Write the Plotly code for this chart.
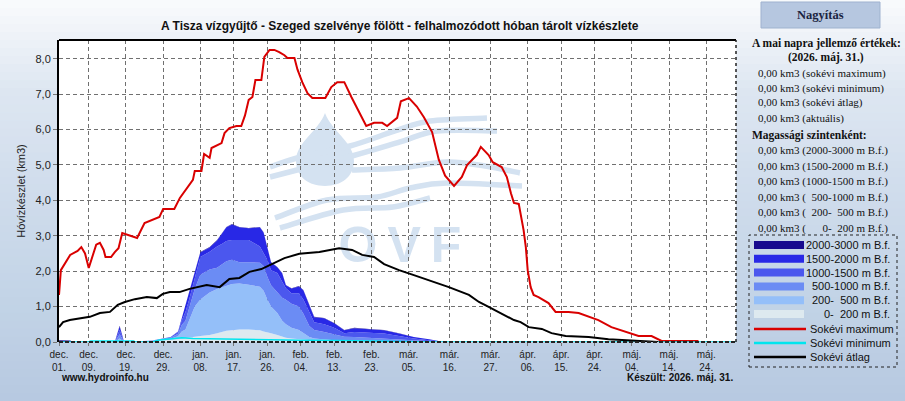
# -*- coding: utf-8 -*-
# Tisza catchment above Szeged - snow water storage chart (hydroinfo style)

import datetime as dt
import plotly.graph_objects as go

# %% data
base = dt.datetime(2025, 12, 1)

# sokévi maximum (red) - days since dec 01, km3
max_days = [0, 0.5, 3, 5, 6, 7, 8, 10, 11, 12, 12.5, 14, 15, 16, 17, 19, 21, 23, 25, 27,
            28, 31, 32.5, 34.5, 36, 36.5, 38.3, 39, 40.5, 41, 42.6, 43.7, 44.5, 45.8, 47.7,
            49, 50, 51, 52, 52.8, 54.4, 55.2, 56.6, 57.9, 59.2, 60.6, 61.4, 63.3, 64.1,
            65.4, 66.8, 68.1, 71.6, 73.2, 74.8, 76.7, 78.6, 80.7, 82.6, 84.7, 86.9, 88.2,
            89.3, 90.9, 91.9, 94.1, 96.2, 98.1, 100.3, 102.1, 103.8, 105.4, 106.2, 108.3,
            109.7, 112.3, 113.4, 115.5, 116.6, 119.0, 120.4, 121.5, 122.3, 123.6, 124.1,
            124.9, 125.5, 126.0, 126.8, 127.6, 128.9, 131.6, 133.5, 137.0, 139.7, 142.4,
            145.0, 148.5, 152.3, 155.8, 159.3, 162.0, 171.9]
max_vals = [1.33, 2.03, 2.46, 2.57, 2.68, 2.5, 2.09, 2.75, 2.8, 2.6, 2.4, 2.4, 2.54, 2.65,
            3.08, 3.02, 2.94, 3.36, 3.45, 3.53, 3.76, 3.76, 4.07, 4.35, 4.58, 4.83, 4.83,
            5.31, 5.2, 5.48, 5.56, 5.62, 5.9, 6.04, 6.1, 6.1, 6.4, 6.84, 6.92, 7.4, 7.4,
            8.05, 8.25, 8.25, 8.19, 8.1, 8.02, 8.02, 7.7, 7.34, 7.03, 6.89, 6.89, 7.2, 7.34,
            7.34, 6.92, 6.47, 6.1, 6.19, 6.19, 6.1, 6.19, 6.33, 6.8, 6.89, 6.65, 6.35, 5.93,
            5.15, 4.7, 4.49, 4.41, 4.66, 5.0, 5.28, 5.51, 5.28, 5.08, 4.94, 4.66, 4.2, 3.93,
            3.9, 3.64, 3.16, 2.68, 2.03, 1.55, 1.33, 1.27, 1.1, 0.85, 0.85, 0.82, 0.71,
            0.62, 0.42, 0.28, 0.17, 0.17, 0.03, 0.03]

# sokévi átlag (black)
avg_days = [0, 1.1, 2.9, 7.0, 8.3, 11.0, 13.7, 15.8, 17.7, 20.4, 23.6, 26.3, 27.9, 29.8,
            32.4, 35.1, 39.7, 43.2, 45.8, 48.5, 51.2, 54.4, 57.1, 60.6, 64.6, 70.0, 75.3,
            78.8, 81.5, 84.7, 87.4, 91.4, 95.4, 99.5, 104.8, 110.2, 112.9, 115.5, 118.2,
            122.3, 124.1, 126.3, 129.8, 132.4, 136.2, 142.4, 147.7, 155.8, 161.1]
avg_vals = [0.42, 0.56, 0.62, 0.68, 0.71, 0.82, 0.85, 1.05, 1.13, 1.21, 1.27, 1.24, 1.36,
            1.41, 1.41, 1.5, 1.61, 1.55, 1.78, 1.81, 1.98, 2.06, 2.2, 2.37, 2.49, 2.54,
            2.65, 2.6, 2.46, 2.4, 2.2, 2.03, 1.89, 1.75, 1.55, 1.33, 1.13, 0.99, 0.85,
            0.62, 0.56, 0.42, 0.37, 0.25, 0.17, 0.14, 0.08, 0.03, 0.0]

# sokévi minimum (cyan)
min_days = [0, 8, 8.5, 20, 20.5, 25, 27, 30, 33, 36, 45, 55, 65, 75, 85, 95, 99, 100, 182]
min_vals = [0, 0, 0.03, 0.03, 0, 0, 0.06, 0.1, 0.12, 0.1, 0.08, 0.07, 0.05, 0.04, 0.03,
            0.02, 0.02, 0, 0]

# current season by elevation band (km3 per band, stacked)
band_days = [0, 3, 4, 15, 16.3, 17.5, 25, 28, 30, 32, 33, 34, 35, 36.5, 38, 40.5, 42.5,
             44, 45, 46.5, 48.5, 51, 54, 55, 56, 57, 58.7, 60, 61, 62.5, 64.5, 65.7, 67.3,
             68.6, 71.3, 74, 76.7, 79.4, 83.4, 87.4, 91.4, 95.4, 99.5, 102, 103.5, 182]
band_0_200 = [0, 0, 0, 0, 0.02, 0, 0.02, 0.05, 0.06, 0.08, 0.1, 0.12, 0.13, 0.15, 0.17,
              0.2, 0.25, 0.3, 0.32, 0.33, 0.35, 0.35, 0.33, 0.3, 0.28, 0.25, 0.2, 0.15,
              0.12, 0.1, 0.08, 0.06, 0.05, 0.04, 0.03, 0.02, 0.02, 0.02, 0.02, 0.01, 0.01,
              0.01, 0, 0, 0, 0]
band_200_500 = [0, 0, 0, 0, 0.08, 0, 0.01, 0.02, 0.03, 0.08, 0.2, 0.23, 0.47, 0.85, 1.03,
                1.2, 1.25, 1.25, 1.28, 1.31, 1.3, 1.27, 1.23, 1.15, 0.92, 0.75, 0.62, 0.45,
                0.38, 0.3, 0.26, 0.19, 0.09, 0.06, 0.04, 0.03, 0.02, 0.02, 0.02, 0.02,
                0.01, 0.01, 0.01, 0, 0, 0]
band_500_1000 = [0, 0, 0, 0, 0.12, 0, 0.01, 0.02, 0.03, 0.07, 0.18, 0.25, 0.35, 0.5, 0.7,
                 0.65, 0.6, 0.65, 0.68, 0.68, 0.6, 0.63, 0.68, 0.7, 0.64, 0.6, 0.58, 0.65,
                 0.69, 0.68, 0.66, 0.55, 0.31, 0.24, 0.21, 0.17, 0.11, 0.1, 0.08, 0.07,
                 0.05, 0.03, 0.02, 0.01, 0, 0]
band_1000_1500 = [0, 0, 0, 0, 0.12, 0, 0, 0.01, 0.02, 0.05, 0.13, 0.25, 0.25, 0.3, 0.5,
                  0.5, 0.6, 0.58, 0.57, 0.56, 0.63, 0.63, 0.46, 0.35, 0.48, 0.43, 0.55,
                  0.45, 0.33, 0.3, 0.38, 0.4, 0.4, 0.22, 0.22, 0.18, 0.1, 0.14, 0.14, 0.14,
                  0.1, 0.05, 0.02, 0.01, 0, 0]
band_1500_2000 = [0, 0, 0, 0, 0.1, 0, 0, 0, 0, 0.02, 0.07, 0.15, 0.18, 0.14, 0.13, 0.12,
                  0.17, 0.31, 0.39, 0.44, 0.36, 0.33, 0.54, 0.59, 0.35, 0.22, 0.16, 0.24,
                  0.08, 0.13, 0.19, 0.26, 0.19, 0.14, 0.17, 0.13, 0.08, 0.11, 0.1, 0.09,
                  0.07, 0.04, 0.03, 0.01, 0, 0]
band_2000_3000 = [0.05, 0.04, 0, 0, 0.02, 0, 0, 0, 0, 0, 0, 0, 0, 0.01, 0.01, 0.01, 0.01,
                  0.01, 0.01, 0.01, 0.01, 0.01, 0.01, 0.01, 0.01, 0.01, 0.01, 0.01, 0.01,
                  0.01, 0.01, 0.01, 0.01, 0.01, 0.01, 0.01, 0.01, 0.01, 0.01, 0.01, 0.01,
                  0, 0, 0, 0, 0]

band_names = ["0-  200 m B.f.", "200-  500 m B.f.", "500-1000 m B.f.",
              "1000-1500 m B.f.", "1500-2000 m B.f.", "2000-3000 m B.f."]
band_values = [band_0_200, band_200_500, band_500_1000, band_1000_1500,
               band_1500_2000, band_2000_3000]
band_colors = ["#dde9ef", "#94bff9", "#6b8cf4", "#4b57ee", "#2828e6", "#180a8e"]

line_names = ["Sokévi maximum", "Sokévi minimum", "Sokévi átlag"]
line_colors = ["#d90000", "#00e5ee", "#000000"]

tick_dates = ["2025-12-01", "2025-12-09", "2025-12-19", "2025-12-29", "2026-01-08",
              "2026-01-17", "2026-01-26", "2026-02-04", "2026-02-13", "2026-02-23",
              "2026-03-05", "2026-03-16", "2026-03-27", "2026-04-06", "2026-04-15",
              "2026-04-24", "2026-05-04", "2026-05-14", "2026-05-24"]
tick_labels = ["dec.<br>01.", "dec.<br>09.", "dec.<br>19.", "dec.<br>29.", "jan.<br>08.",
               "jan.<br>17.", "jan.<br>26.", "feb.<br>04.", "feb.<br>13.", "feb.<br>23.",
               "már.<br>05.", "már.<br>16.", "már.<br>27.", "ápr.<br>06.", "ápr.<br>15.",
               "ápr.<br>24.", "máj.<br>04.", "máj.<br>14.", "máj.<br>24."]

today_rows = ["0,00 km3 (sokévi maximum)", "0,00 km3 (sokévi minimum)",
              "0,00 km3 (sokévi átlag)", "0,00 km3 (aktuális)"]
level_rows = ["0,00 km3 (2000-3000 m B.f.)", "0,00 km3 (1500-2000 m B.f.)",
              "0,00 km3 (1000-1500 m B.f.)", "0,00 km3 (  500-1000 m B.f.)",
              "0,00 km3 (  200-  500 m B.f.)", "0,00 km3 (      0-  200 m B.f.)"]


def to_dates(days):
    return [base + dt.timedelta(days=d) for d in days]


# %% pixel helpers for the decoration (plot box in page pixels)
W, H = 905, 401
L, R, T, B = 59, 736, 40, 342


def fx(px):
    return (px - L) / (R - L)


def fy(py):
    return (B - py) / (B - T)


def p(x, y):
    return "%.4f,%.4f" % (fx(x), fy(y))


def smooth_path(pts):
    s = "M" + p(*pts[0])
    for i in range(len(pts) - 1):
        p0 = pts[i - 1] if i > 0 else pts[i]
        p1, p2 = pts[i], pts[i + 1]
        p3 = pts[i + 2] if i + 2 < len(pts) else p2
        c1 = (p1[0] + (p2[0] - p0[0]) / 6, p1[1] + (p2[1] - p0[1]) / 6)
        c2 = (p2[0] - (p3[0] - p1[0]) / 6, p2[1] - (p3[1] - p1[1]) / 6)
        s += " C" + p(*c1) + " " + p(*c2) + " " + p(*p2)
    return s


def nb(s):
    return s.replace(" ", "\u00a0")


# %% figure
fig = go.Figure()

band_x = to_dates(band_days)
for name, vals, col in zip(band_names, band_values, band_colors):
    fig.add_trace(go.Scatter(x=band_x, y=vals, name=name, stackgroup="snow",
                             mode="lines", line=dict(width=0, color=col),
                             fillcolor=col, showlegend=False))

fig.add_trace(go.Scatter(x=to_dates(max_days), y=max_vals, mode="lines",
                         line=dict(color=line_colors[0], width=2), showlegend=False))
fig.add_trace(go.Scatter(x=to_dates(min_days), y=min_vals, mode="lines",
                         line=dict(color=line_colors[1], width=1.5), showlegend=False))
fig.add_trace(go.Scatter(x=to_dates(avg_days), y=avg_vals, mode="lines",
                         line=dict(color=line_colors[2], width=2), showlegend=False))

shapes = []

# page background gradient (top light -> bottom blue)
stops = [(0, (250, 251, 253)), (90, (222, 231, 242)), (200, (207, 220, 236)),
         (300, (195, 212, 231)), (401, (183, 201, 225))]
nband = 50
for i in range(nband):
    y0 = H * i / nband
    y1 = H * (i + 1) / nband + 0.5
    ym = (y0 + y1) / 2
    for (a, ca), (b, cb) in zip(stops[:-1], stops[1:]):
        if a <= ym <= b:
            t = (ym - a) / (b - a)
            c = tuple(int(ca[k] + (cb[k] - ca[k]) * t) for k in range(3))
            break
    shapes.append(dict(type="rect", xref="paper", yref="paper", layer="below",
                       x0=fx(0), x1=fx(W), y0=fy(y1), y1=fy(y0), line=dict(width=0),
                       fillcolor="rgb(%d,%d,%d)" % c))

# white plot box
shapes.append(dict(type="rect", xref="paper", yref="paper", layer="below", x0=0, x1=1,
                   y0=0, y1=1, line=dict(width=0), fillcolor="white"))

# OVF watermark
logo = "#d4e2f1"
drop = ("M" + p(325, 113) + " C" + p(318, 132) + " " + p(296, 142) + " " + p(296, 161)
        + " C" + p(296, 177) + " " + p(309, 186) + " " + p(325, 186)
        + " C" + p(341, 186) + " " + p(354, 177) + " " + p(354, 161)
        + " C" + p(354, 142) + " " + p(332, 132) + " " + p(325, 113) + " Z")
shapes.append(dict(type="path", xref="paper", yref="paper", layer="below", path=drop,
                   fillcolor=logo, line=dict(width=0)))
waves = [
    [(270, 167), (297, 158), (350, 146), (395, 131), (430, 121), (487, 118)],
    [(270, 177), (297, 170), (352, 156), (400, 142), (437, 131), (497, 131)],
    [(352, 170), (400, 168), (447, 162), (485, 166), (520, 173)],
    [(275, 218), (327, 200), (377, 197), (410, 188), (447, 183), (522, 186)],
    [(280, 228), (343, 210), (393, 207), (430, 198)],
]
for w in waves:
    shapes.append(dict(type="path", xref="paper", yref="paper", layer="below",
                       path=smooth_path(w), line=dict(color=logo, width=5.5)))
shapes.append(dict(type="rect", xref="paper", yref="paper", layer="below",
                   x0=fx(330), x1=fx(470), y0=fy(262), y1=fy(218),
                   line=dict(width=0), fillcolor="rgba(0,0,0,0)",
                   label=dict(text="O\u2009V\u2009F", textposition="middle center",
                              font=dict(family="Liberation Sans", size=50, color=logo,
                                        weight="bold"))))

# frame: top solid, bottom dashed, right dotted
shapes.append(dict(type="line", xref="paper", yref="paper", x0=0, x1=1, y0=1, y1=1,
                   line=dict(color="black", width=2)))
shapes.append(dict(type="line", xref="paper", yref="paper", x0=0, x1=1, y0=0, y1=0,
                   line=dict(color="#222", width=2, dash="4px,2px")))
shapes.append(dict(type="line", xref="paper", yref="paper", x0=1, x1=1, y0=0, y1=1,
                   line=dict(color="#222", width=1.5, dash="dot")))

# Nagyítás button
shapes.append(dict(type="rect", xref="paper", yref="paper", x0=fx(761), x1=fx(880),
                   y0=fy(28), y1=fy(2), fillcolor="#b6c7e0",
                   line=dict(color="#9fb2cf", width=1)))

# legend box
shapes.append(dict(type="rect", xref="paper", yref="paper", x0=fx(749), x1=fx(897),
                   y0=fy(367), y1=fy(235), fillcolor="rgba(0,0,0,0)",
                   line=dict(color="#222", width=1, dash="dot")))
ann = []
leg_font = dict(family="Liberation Sans", size=11, color="#111")
for i, (name, col) in enumerate(zip(band_names[::-1], band_colors[::-1])):
    yc = 245 + i * 13.8
    shapes.append(dict(type="rect", xref="paper", yref="paper", x0=fx(754), x1=fx(804),
                       y0=fy(yc + 4), y1=fy(yc - 4), fillcolor=col, line=dict(width=0)))
    ann.append(dict(x=fx(892), y=fy(yc), xanchor="right", yanchor="middle",
                    text=nb(name), font=leg_font))
for i, (name, col) in enumerate(zip(line_names, line_colors)):
    yc = 329 + i * 14
    shapes.append(dict(type="line", xref="paper", yref="paper", x0=fx(754), x1=fx(806),
                       y0=fy(yc), y1=fy(yc), line=dict(color=col, width=2.5)))
    ann.append(dict(x=fx(808), y=fy(yc), xanchor="left", yanchor="middle",
                    text=name, font=leg_font))

# right info panel
serif = dict(family="Liberation Serif", size=11, color="#111")
serif_b = dict(family="Liberation Serif", size=11.5, color="#111", weight="bold")
ann.append(dict(x=fx(821), y=fy(15), xanchor="center", yanchor="middle",
                text="<b>Nagyítás</b>",
                font=dict(family="Liberation Serif", size=12.5, color="#1b2440")))
ann.append(dict(x=fx(826), y=fy(43), xanchor="center", yanchor="middle",
                text="<b>A mai napra jellemző értékek:</b>", font=serif_b))
ann.append(dict(x=fx(826), y=fy(58), xanchor="center", yanchor="middle",
                text="<b>(2026. máj. 31.)</b>", font=serif_b))
for i, row in enumerate(today_rows):
    ann.append(dict(x=fx(756), y=fy(73 + i * 15), xanchor="left", yanchor="middle",
                    text=nb(row), font=serif))
ann.append(dict(x=fx(750), y=fy(135), xanchor="left", yanchor="middle",
                text="<b>Magassági szintenként:</b>", font=serif_b))
for i, row in enumerate(level_rows):
    ann.append(dict(x=fx(756), y=fy(150.5 + i * 15.5), xanchor="left", yanchor="middle",
                    text=nb(row), font=serif))

# title and footer
ann.append(dict(x=fx(400), y=fy(26), xanchor="center", yanchor="middle",
                text="<b>A Tisza vízgyűjtő - Szeged szelvénye fölött - felhalmozódott "
                     "hóban tárolt vízkészlete</b>",
                font=dict(family="Liberation Sans", size=12, color="#111")))
ann.append(dict(x=fx(59), y=fy(377), xanchor="left", yanchor="middle",
                text="<b>www.hydroinfo.hu</b>",
                font=dict(family="Liberation Sans", size=10, color="#111")))
ann.append(dict(x=fx(735), y=fy(377), xanchor="right", yanchor="middle",
                text="<b>Készült: 2026. máj. 31.</b>",
                font=dict(family="Liberation Sans", size=10, color="#111")))

for a in ann:
    a.update(xref="paper", yref="paper", showarrow=False)

fig.update_layout(
    width=W, height=H, autosize=False,
    margin=dict(l=L, r=W - R, t=T, b=H - B, pad=0),
    paper_bgcolor="rgb(220,230,241)",
    plot_bgcolor="rgba(0,0,0,0)",
    separators=", ",
    font=dict(family="Liberation Sans", size=11, color="#222"),
    shapes=shapes,
    annotations=ann,
    showlegend=False,
    hovermode=False,
)
fig.update_xaxes(
    type="date",
    range=[base, base + dt.timedelta(days=182)],
    tickvals=tick_dates, ticktext=tick_labels,
    tickfont=dict(size=10, color="#222"),
    ticks="outside", ticklen=3, tickcolor="#777",
    showgrid=True, gridcolor="#707070", gridwidth=1, griddash="4px,3px",
    showline=False, zeroline=False,
)
fig.update_yaxes(
    range=[0, 8.53], tick0=0, dtick=1, tickformat=".1f",
    tickfont=dict(size=11, color="#222"),
    ticks="outside", ticklen=4, tickcolor="#777",
    showgrid=True, gridcolor="#707070", gridwidth=1, griddash="4px,3px",
    showline=True, linecolor="black", linewidth=2, zeroline=False,
    title=dict(text="Hóvízkészlet (km3)", font=dict(size=11, color="#222"), standoff=8),
)

# page body margin off so the 905x401 figure sits at the window corner
fig.write_html("out.html", config={"displayModeBar": False},
               post_script="document.body.style.margin='0';")
